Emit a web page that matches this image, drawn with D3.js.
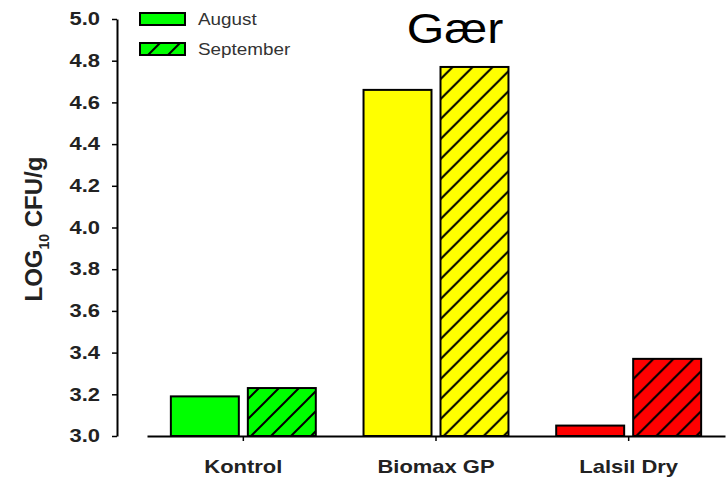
<!DOCTYPE html>
<html>
<head>
<meta charset="utf-8">
<script src="https://cdn.jsdelivr.net/npm/d3@7"></script>
<style>
  body { margin: 0; background: #fff; }
  text { font-family: "Liberation Sans", Arial, sans-serif; }
</style>
</head>
<body>
<div id="chart"></div>
<script>
// data
var categories = ["Kontrol", "Biomax GP", "Lalsil Dry"];
var series = ["August", "September"];
var august = [3.19, 4.66, 3.05];
var september = [3.23, 4.77, 3.37];
var yTicks = [3.0, 3.2, 3.4, 3.6, 3.8, 4.0, 4.2, 4.4, 4.6, 4.8, 5.0];
var colors = ["#00ff00", "#ffff00", "#ff0000"];

var width = 727, height = 479;

// the original text is drawn a bit wider than Arial
function stretch(sel, k) {
    sel.each(function() {
        var t = d3.select(this);
        var x = +t.attr("x") || 0;
        t.attr("x", x / k).attr("transform", "scale(" + k + ",1)");
    });
}

var svg = d3.select("#chart")
    .append("svg")
    .attr("width", width)
    .attr("height", height);

// hatch patterns, one per colour
var defs = svg.append("defs");
colors.forEach(function(c, i) {
    var p = defs.append("pattern")
        .attr("id", "hatch" + i)
        .attr("patternUnits", "userSpaceOnUse")
        .attr("width", 20)
        .attr("height", 20);
    p.append("rect").attr("width", 20).attr("height", 20).attr("fill", c);
    p.append("path")
        .attr("d", "M-5,5 L5,-5 M0,20 L20,0 M15,25 L25,15")
        .attr("stroke", "#000")
        .attr("stroke-width", 2);
});

// scales
var y = d3.scaleLinear()
    .domain([3, 5])
    .range([436, 19]);

var x = d3.scaleBand()
    .domain(categories)
    .range([147, 725]);

var x1 = d3.scaleBand()
    .domain(series)
    .range([0, x.bandwidth()])
    .paddingInner(0.117)
    .paddingOuter(0.31);

// Y axis
var yAxis = svg.append("g")
    .attr("transform", "translate(117,0)")
    .call(d3.axisLeft(y).tickValues(yTicks).tickFormat(d3.format(".1f"))
        .tickSize(5).tickSizeOuter(0).tickPadding(12));
yAxis.select(".domain").attr("stroke-width", 2);
yAxis.selectAll(".tick line").attr("stroke-width", 1.5);
yAxis.selectAll("text")
    .style("font-size", "18px")
    .style("font-weight", "bold")
    .attr("fill", "#222")
    .call(stretch, 1.22);

// bars
var rows = categories.map(function(c, i) {
    return {cat: c, i: i, values: [august[i], september[i]]};
});

var groups = svg.selectAll(".grp")
    .data(rows)
    .enter().append("g")
    .attr("transform", function(d) { return "translate(" + x(d.cat) + ",0)"; });

groups.selectAll("rect")
    .data(function(d) {
        return series.map(function(s, j) { return {s: s, j: j, v: d.values[j], i: d.i}; });
    })
    .enter().append("rect")
    .attr("x", function(d) { return x1(d.s); })
    .attr("y", function(d) { return y(d.v); })
    .attr("width", x1.bandwidth())
    .attr("height", function(d) { return y(3) - y(d.v); })
    .attr("fill", function(d) { return d.j == 0 ? colors[d.i] : "url(#hatch" + d.i + ")"; })
    .attr("stroke", "#000")
    .attr("stroke-width", 2);

// X axis
var xAxis = svg.append("g")
    .attr("transform", "translate(0,436)")
    .call(d3.axisBottom(x).tickSize(5).tickSizeOuter(0).tickPadding(19));
xAxis.select(".domain").attr("stroke-width", 2);
xAxis.selectAll(".tick line").attr("stroke-width", 1.5);
xAxis.selectAll("text")
    .style("font-size", "18px")
    .style("font-weight", "bold")
    .attr("fill", "#222")
    .call(stretch, 1.22);

// y label
var ylab = svg.append("text")
    .attr("transform", "translate(42,229) rotate(-90)")
    .attr("text-anchor", "middle")
    .style("font-size", "24px")
    .style("font-weight", "bold")
    .attr("fill", "#222");
ylab.append("tspan").text("LOG");
ylab.append("tspan").attr("dy", 7).style("font-size", "14px").text("10");
ylab.append("tspan").attr("dy", -7).text(" CFU/g");

// title
svg.append("text")
    .attr("x", 455)
    .attr("y", 43)
    .attr("text-anchor", "middle")
    .style("font-size", "42px")
    .attr("fill", "#000")
    .text("Gær")
    .call(stretch, 1.15);

// legend
var legend = svg.selectAll(".leg")
    .data(series)
    .enter().append("g")
    .attr("transform", function(d, i) { return "translate(140," + (13 + i * 30) + ")"; });
legend.append("rect")
    .attr("width", 45)
    .attr("height", 12)
    .attr("fill", function(d, i) { return i == 0 ? colors[0] : "url(#hatch0)"; })
    .attr("stroke", "#000")
    .attr("stroke-width", 2);
legend.append("text")
    .attr("x", 58)
    .attr("y", 12)
    .style("font-size", "16px")
    .attr("fill", "#333")
    .text(function(d) { return d; })
    .call(stretch, 1.18);
</script>
</body>
</html>
